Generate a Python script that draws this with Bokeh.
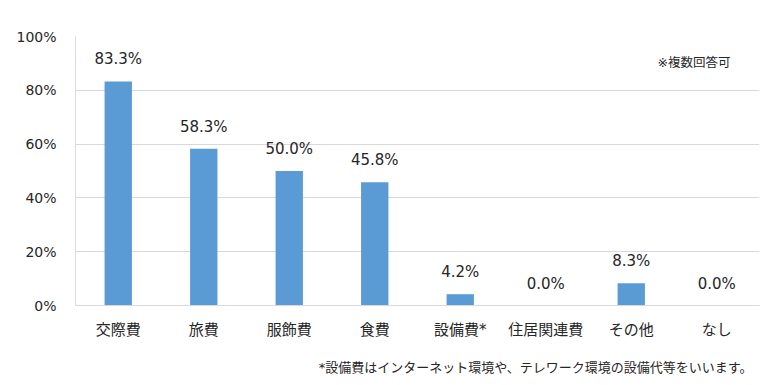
from bokeh.plotting import figure
from bokeh.models import ColumnDataSource, Label, FixedTicker, CustomJSTickFormatter, Span
from bokeh.embed import file_html
from bokeh.resources import INLINE

categories = ["交際費", "旅費", "服飾費", "食費", "設備費*", "住居関連費", "その他", "なし"]
values = [83.3, 58.3, 50.0, 45.8, 4.2, 0.0, 8.3, 0.0]
y_ticks = [0, 20, 40, 60, 80, 100]
note_text = "※複数回答可"
footnote_text = "*設備費はインターネット環境や、テレワーク環境の設備代等をいいます。"

FONT = "'DejaVu Sans', 'Noto Sans CJK JP', sans-serif"
TEXT_COLOR = "#262626"
GRID = "#D9D9D9"

labels = [f"{v:.1f}%" for v in values]
src = ColumnDataSource(data=dict(cat=categories, val=values, lab=labels,
                                 zero=[0] * len(categories)))

# frame: 0 at 269px below 100; extra 72px of frame below zero for category labels and footnote
y_min = -72 / 269 * 100
p = figure(x_range=categories, y_range=(y_min, 100), width=772, height=377,
           output_backend="svg", toolbar_location=None,
           min_border_left=75, min_border_right=13, min_border_top=36, min_border_bottom=0)
p.outline_line_color = None
p.background_fill_color = "white"
p.x_range.range_padding = 0

p.vbar(x="cat", top="val", width=0.32, source=src, color="#5B9BD5", line_color=None)
p.text(x="cat", y="val", text="lab", source=src, text_align="center", text_baseline="middle",
       y_offset=-22, text_font_size="15px", text_color=TEXT_COLOR, text_font={"value": FONT})
# category labels under the baseline
p.text(x="cat", y="zero", text="cat", source=src, text_align="center", text_baseline="middle",
       y_offset=24.5, text_font_size="15px", text_color=TEXT_COLOR, text_font={"value": FONT})
p.add_layout(Span(location=0, dimension="width", line_color=GRID, line_width=1))

p.xaxis.visible = False
p.yaxis.ticker = FixedTicker(ticks=y_ticks)
p.yaxis.formatter = CustomJSTickFormatter(code="return tick + '%';")
p.yaxis.bounds = (0, 100)
p.yaxis.major_tick_line_color = None
p.yaxis.minor_tick_line_color = None
p.yaxis.axis_line_color = GRID
p.yaxis.major_label_text_font = FONT
p.yaxis.major_label_text_color = TEXT_COLOR
p.yaxis.major_label_text_font_size = "14px"
p.yaxis.major_label_standoff = 13

p.xgrid.grid_line_color = None
p.ygrid.grid_line_color = GRID
p.ygrid.ticker = FixedTicker(ticks=y_ticks)

p.add_layout(Label(x=7.66, y=90.3, text=note_text, text_align="right", text_baseline="middle",
                   text_font=FONT, text_font_size="12.5px", text_color=TEXT_COLOR))
p.add_layout(Label(x=7.918, y=-62 / 2.69, text=footnote_text, text_align="right",
                   text_baseline="middle", text_font=FONT, text_font_size="13px",
                   text_color=TEXT_COLOR))

open("out.html", "w").write(file_html(p, INLINE))
